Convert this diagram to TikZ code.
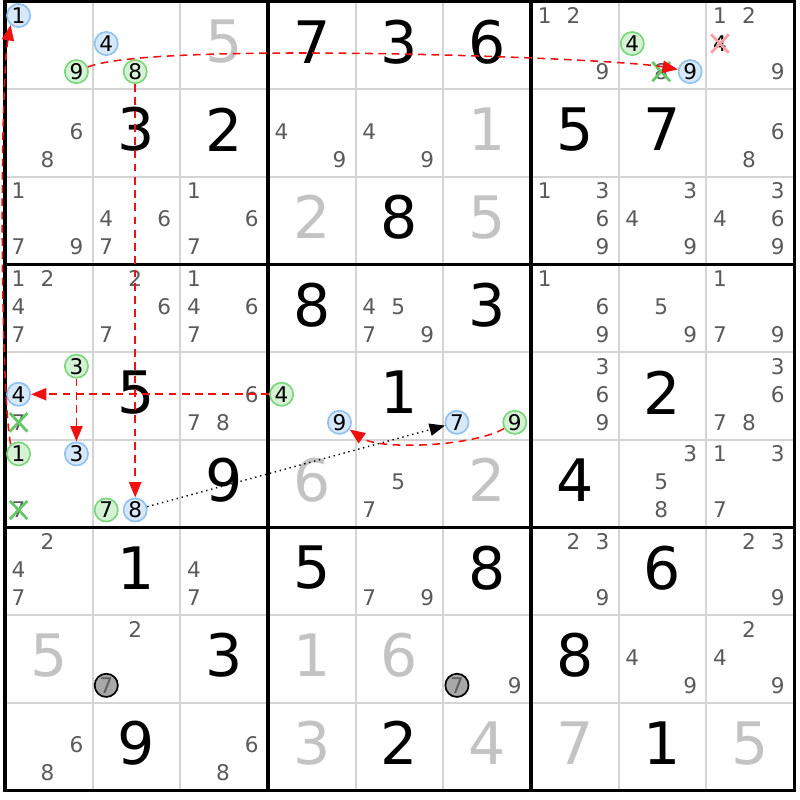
\documentclass[tikz,border=0pt]{standalone}
\usepackage{fontspec}
\setmainfont{DejaVu Sans}
\usetikzlibrary{arrows.meta,shapes.misc}
\definecolor{candgray}{HTML}{5A5A5A}
\definecolor{solvgray}{HTML}{C3C3C3}
\definecolor{gridgray}{HTML}{D4D4D4}
\definecolor{blfill}{HTML}{D6E8FA}
\definecolor{bldraw}{HTML}{92C3EF}
\definecolor{grfill}{HTML}{D5F2D5}
\definecolor{grdraw}{HTML}{7DD67D}
\definecolor{linkred}{HTML}{F01010}
\definecolor{xgreen}{HTML}{66C766}
\definecolor{xpink}{HTML}{F7A0A8}
\definecolor{gfill}{HTML}{A8A8A8}
\definecolor{gtext}{HTML}{606060}
% one candidate d of cell (r,c)
\newcommand{\cand}[4][cnd]{%
 \pgfmathsetmacro\cx{#3-0.845+0.33*mod(#4-1,3)}%
 \pgfmathsetmacro\cy{-#2+0.84-0.32*floor((#4-1)/3)}%
 \node[#1] (r#2c#3n#4) at (\cx,\cy) {#4};}
\newcommand{\cands}[3]{\foreach \d in {#3} {\cand{#1}{#2}{\d}}}
\newcommand{\given}[3]{\node[bigdig] (r#1c#2) at (#2-0.5,-#1+0.54) {#3};}
\newcommand{\solved}[3]{\node[bigdig,text=solvgray] (r#1c#2) at (#2-0.5,-#1+0.54) {#3};}
\begin{document}
\begin{tikzpicture}[x=1cm,y=1cm,
 cnd/.style={text=candgray,font=\fontsize{7}{7}\selectfont,inner sep=0pt},
 bc/.style={cnd,text=black,circle,draw=bldraw,fill=blfill,line width=0.55pt,minimum size=0.265cm},
 gc/.style={bc,draw=grdraw,fill=grfill},
 gcirc/.style={bc,draw=black,fill=gfill,text=gtext},
 xg/.style={cnd,cross out,draw=xgreen,line width=0.9pt,minimum size=0.17cm},
 xp/.style={xg,draw=xpink,text=black},
 bigdig/.style={font=\fontsize{19}{19}\selectfont,inner sep=0pt},
 link/.style={linkred,line width=0.5pt,dash pattern=on 2.5pt off 1.8pt,-{Triangle[length=5pt,width=4pt]}},
 hint/.style={black,line width=0.45pt,dash pattern=on 0.45pt off 1.2pt,-{Triangle[length=5pt,width=4pt]}}]
 \useasboundingbox (-0.057,0.017) rectangle (9.068,-9.108);
 % grid
 \foreach \i in {1,2,4,5,7,8} \draw[gridgray,line width=0.6pt] (\i,0)--(\i,-9) (0,-\i)--(9,-\i);
 \foreach \i in {3,6} \draw[line width=1pt] (\i,0)--(\i,-9) (0,-\i)--(9,-\i);
 \draw[line width=1pt] (0,0) rectangle (9,-9);
 % row 1
 \cand[bc]{1}{1}{1} \cand[gc]{1}{1}{9}
 \cand[bc]{1}{2}{4} \cand[gc]{1}{2}{8}
 \solved{1}{3}{5} \given{1}{4}{7} \given{1}{5}{3} \given{1}{6}{6}
 \cands{1}{7}{1,2,9}
 \cand[gc]{1}{8}{4} \cand[xg]{1}{8}{8} \cand[bc]{1}{8}{9}
 \cands{1}{9}{1,2,9} \cand[xp]{1}{9}{4}
 % row 2
 \cands{2}{1}{6,8} \given{2}{2}{3} \given{2}{3}{2} \cands{2}{4}{4,9} \cands{2}{5}{4,9}
 \solved{2}{6}{1} \given{2}{7}{5} \given{2}{8}{7} \cands{2}{9}{6,8}
 % row 3
 \cands{3}{1}{1,7,9} \cands{3}{2}{4,6,7} \cands{3}{3}{1,6,7} \solved{3}{4}{2} \given{3}{5}{8}
 \solved{3}{6}{5} \cands{3}{7}{1,3,6,9} \cands{3}{8}{3,4,9} \cands{3}{9}{3,4,6,9}
 % row 4
 \cands{4}{1}{1,2,4,7} \cands{4}{2}{2,6,7} \cands{4}{3}{1,4,6,7} \given{4}{4}{8} \cands{4}{5}{4,5,7,9}
 \given{4}{6}{3} \cands{4}{7}{1,6,9} \cands{4}{8}{5,9} \cands{4}{9}{1,7,9}
 % row 5
 \cand[gc]{5}{1}{3} \cand[bc]{5}{1}{4} \cand[xg]{5}{1}{7} \given{5}{2}{5} \cands{5}{3}{6,7,8}
 \cand[gc]{5}{4}{4} \cand[bc]{5}{4}{9} \given{5}{5}{1} \cand[bc]{5}{6}{7} \cand[gc]{5}{6}{9}
 \cands{5}{7}{3,6,9} \given{5}{8}{2} \cands{5}{9}{3,6,7,8}
 % row 6
 \cand[gc]{6}{1}{1} \cand[bc]{6}{1}{3} \cand[xg]{6}{1}{7} \cand[gc]{6}{2}{7} \cand[bc]{6}{2}{8}
 \given{6}{3}{9} \solved{6}{4}{6} \cands{6}{5}{5,7} \solved{6}{6}{2} \given{6}{7}{4}
 \cands{6}{8}{3,5,8} \cands{6}{9}{1,3,7}
 % row 7
 \cands{7}{1}{2,4,7} \given{7}{2}{1} \cands{7}{3}{4,7} \given{7}{4}{5} \cands{7}{5}{7,9}
 \given{7}{6}{8} \cands{7}{7}{2,3,9} \given{7}{8}{6} \cands{7}{9}{2,3,9}
 % row 8
 \solved{8}{1}{5} \cands{8}{2}{2} \cand[gcirc]{8}{2}{7} \given{8}{3}{3} \solved{8}{4}{1} \solved{8}{5}{6}
 \cand[gcirc]{8}{6}{7} \cands{8}{6}{9} \given{8}{7}{8} \cands{8}{8}{4,9} \cands{8}{9}{2,4,9}
 % row 9
 \cands{9}{1}{6,8} \given{9}{2}{9} \cands{9}{3}{6,8} \solved{9}{4}{3} \given{9}{5}{2}
 \solved{9}{6}{4} \solved{9}{7}{7} \given{9}{8}{1} \solved{9}{9}{5}
 % chain
 \draw[link] (r1c1n9) to[out=22,in=170,looseness=0.3] (r1c8n9);
 \draw[link] (r1c2n8) -- (r6c2n8);
 \draw[link] (r5c4n4) -- (r5c1n4);
 \draw[link] (r5c1n3) -- (r6c1n3);
 \draw[link] (r6c1n1.130) .. controls +(100:0.7) and +(-100:0.7) .. (r1c1n1.-130);
 \draw[link] (r5c6n9) to[out=-150,in=-35,looseness=0.6] (r5c4n9);
 \draw[hint] (r6c2n8) -- (r5c6n7);
\end{tikzpicture}
\end{document}
